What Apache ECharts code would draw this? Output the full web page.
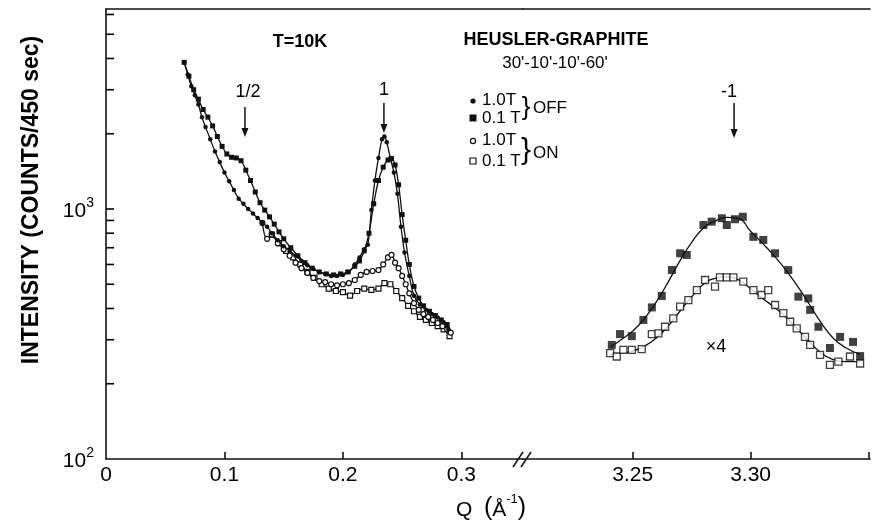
<!DOCTYPE html>
<html><head><meta charset="utf-8">
<script src="https://cdn.jsdelivr.net/npm/echarts@6/dist/echarts.min.js"></script>
<style>html,body{margin:0;padding:0;background:#fff}#c{width:874px;height:521px}</style>
</head><body><div id="c"></div>
<script>
// ---------- tick labels ----------
var xTicksLeft = [0.1, 0.2, 0.3];
var xLabelsLeft = [0, 0.1, 0.2, 0.3];
var xTicksRight = [3.25, 3.30, 3.35];
var xLabelsRight = [3.25, 3.30];
var yLabels = [100, 1000];
var yTicks = [200,300,400,500,600,700,800,900,1000,2000,3000,4000,5000,6000];
var Y_MIN = 100, Y_MAX = 6310;

// ---------- left part (low Q) ----------
// 1.0 T, flipper OFF (filled dots)
var q10off = [0.066,0.069,0.072,0.075,0.078,0.081,0.084,0.088,0.092,0.096,0.100,0.104,0.108,0.112,0.116,0.120,0.124,0.128,0.132,0.136,0.140,0.145,0.150,0.155,0.160,0.165,0.170,0.175,0.180,0.185,0.190,0.195,0.200,0.205,0.210,0.214,0.218,0.221,0.224,0.227,0.230,0.233,0.235,0.237,0.240,0.243,0.246,0.249,0.252,0.256,0.260,0.265,0.270,0.275,0.280,0.285,0.289];
var i10off = [3860,3450,3100,2850,2620,2330,2130,1900,1700,1540,1400,1290,1190,1100,1050,1000,960,920,880,850,800,750,710,680,650,620,595,575,560,550,540,540,545,560,600,640,690,720,990,1300,1600,1900,1950,1850,1600,1400,1150,850,670,540,450,415,395,380,368,352,330];
// 0.1 T, flipper OFF (filled squares)
var q01off = [0.066,0.070,0.074,0.078,0.082,0.086,0.090,0.094,0.098,0.102,0.106,0.110,0.114,0.118,0.122,0.126,0.130,0.134,0.138,0.142,0.146,0.150,0.156,0.162,0.168,0.174,0.180,0.186,0.192,0.198,0.204,0.210,0.214,0.218,0.222,0.226,0.230,0.234,0.238,0.241,0.244,0.247,0.250,0.253,0.256,0.260,0.264,0.268,0.273,0.278,0.283,0.288];
var i01off = [3860,3400,3000,2750,2500,2330,2150,1950,1780,1660,1610,1600,1560,1430,1300,1170,1060,990,930,870,810,760,700,650,610,580,560,550,545,550,560,590,620,680,800,1050,1300,1470,1570,1590,1500,1250,950,750,600,490,440,410,390,375,360,345];
// 1.0 T, flipper ON (open circles)
var q10on = [0.132,0.136,0.140,0.145,0.150,0.155,0.160,0.165,0.170,0.175,0.180,0.185,0.190,0.195,0.200,0.205,0.210,0.215,0.220,0.225,0.230,0.234,0.238,0.241,0.244,0.247,0.250,0.253,0.256,0.260,0.264,0.268,0.272,0.276,0.280,0.284,0.288,0.291];
var i10on = [880,760,790,730,690,650,610,580,555,530,515,510,500,495,500,505,520,545,560,565,570,600,640,655,610,580,540,500,460,420,395,380,370,360,350,340,330,320];
// 0.1 T, flipper ON (open squares)
var q01on = [0.140,0.146,0.152,0.158,0.164,0.170,0.176,0.182,0.188,0.194,0.200,0.206,0.212,0.218,0.224,0.230,0.235,0.240,0.245,0.250,0.255,0.260,0.265,0.270,0.275,0.280,0.285,0.290];
var i01on = [790,730,680,640,600,560,530,500,480,470,465,450,470,480,475,480,505,500,470,440,410,390,370,360,350,340,330,310];

// ---------- right part (Q near 3.29) ----------
// 0.1 T OFF points (filled squares)
var qR01off = [3.2411,3.2446,3.2496,3.2545,3.2581,3.2623,3.2666,3.2701,3.2729,3.2800,3.2835,3.2878,3.2899,3.2934,3.2967,3.3012,3.3054,3.3104,3.3160,3.3203,3.3245,3.3253,3.3288,3.3337,3.3380,3.3435,3.3465];
var iR01off = [286,316,310,360,404,449,570,665,655,863,890,918,863,910,931,774,752,665,570,446,439,395,338,278,308,294,258];
// 0.1 T ON points x4 (open squares)
var qR01on = [3.2404,3.2432,3.2460,3.2496,3.2538,3.2581,3.2609,3.2637,3.2672,3.2701,3.2736,3.2772,3.2807,3.2849,3.2870,3.2899,3.2927,3.2969,3.3012,3.3047,3.3075,3.3104,3.3139,3.3168,3.3196,3.3231,3.3253,3.3295,3.3337,3.3373,3.3422,3.3465];
var iR01on = [265,257,273,273,275,316,318,338,365,407,432,474,520,489,533,533,533,512,474,453,474,413,383,354,333,308,286,261,238,245,257,241];
// fitted curves
var qFit = [3.2405,3.245,3.25,3.255,3.26,3.265,3.27,3.275,3.28,3.285,3.29,3.295,3.30,3.305,3.31,3.315,3.32,3.325,3.33,3.335,3.34,3.3465];
var iFitOff = [280,300,325,365,425,510,620,735,840,895,925,915,815,730,650,570,490,415,350,305,280,262];
var iFitOn = [262,265,270,283,305,340,390,445,500,528,535,520,480,440,405,370,330,295,265,250,245,245];

function zip(a, b) { return a.map(function (v, k) { return [v, b[k]]; }); }

var FONT = 'Liberation Sans, Arial, sans-serif';
var BLACK = '#111';
var GRID_TOP = 9, GRID_BOTTOM = 62, GRID_LEFT = 106;

var chart = echarts.init(document.getElementById('c'), null, {renderer: 'canvas'});

function bottomAxis(grid, min, max, ticks, labels, fmt) {
  return {
    type: 'value', gridIndex: grid, min: min, max: max, position: 'bottom',
    axisLine: {show: true, lineStyle: {color: BLACK, width: 1.6}},
    axisTick: {show: true, inside: true, length: 7, customValues: ticks, lineStyle: {color: BLACK, width: 1.6}},
    axisLabel: {show: true, customValues: labels, formatter: fmt, fontSize: 21, color: '#000', fontFamily: FONT, margin: 6},
    splitLine: {show: false}
  };
}
function topAxis(grid, min, max) {
  return {
    type: 'value', gridIndex: grid, min: min, max: max, position: 'top',
    axisLine: {show: true, lineStyle: {color: BLACK, width: 1.6}},
    axisTick: {show: false}, axisLabel: {show: false}, splitLine: {show: false}
  };
}

var lineStyle = {color: BLACK, width: 1.3};
var filled = {color: BLACK};
var open = {color: '#fff', borderColor: BLACK, borderWidth: 1.2};

var option = {
  animation: false,
  backgroundColor: '#fff',
  grid: [
    {left: GRID_LEFT, top: GRID_TOP, width: 417, bottom: GRID_BOTTOM},
    {left: 523, top: GRID_TOP, right: 4, bottom: GRID_BOTTOM}
  ],
  xAxis: [
    bottomAxis(0, 0, 0.352, xTicksLeft, xLabelsLeft, function (v) { return v === 0 ? '0' : String(v); }),
    bottomAxis(1, 3.2034, 3.3507, xTicksRight, xLabelsRight, function (v) { return v.toFixed(2); }),
    topAxis(0, 0, 0.352),
    topAxis(1, 3.2034, 3.3507)
  ],
  yAxis: [
    {
      type: 'log', logBase: 10, gridIndex: 0, min: Y_MIN, max: Y_MAX,
      axisLine: {show: true, lineStyle: {color: BLACK, width: 1.6}},
      axisTick: {show: false},
      axisLabel: {
        show: true, customValues: yLabels, margin: 12,
        formatter: function (v) { return '{b|10}{s|' + Math.round(Math.log10(v)) + '}'; },
        rich: {
          b: {fontSize: 21, fontFamily: FONT, color: '#000', lineHeight: 26, verticalAlign: 'bottom'},
          s: {fontSize: 14, fontFamily: FONT, color: '#000', lineHeight: 26, verticalAlign: 'top'}
        }
      },
      splitLine: {show: false}, minorTick: {show: false}
    },
    {type: 'log', logBase: 10, gridIndex: 1, min: Y_MIN, max: Y_MAX, show: false}
  ],
  series: [
    {name: '0.1T ON', type: 'line', xAxisIndex: 0, yAxisIndex: 0, data: zip(q01on, i01on), smooth: 0.4,
      symbol: 'rect', symbolSize: 5, itemStyle: open, lineStyle: lineStyle, z: 2},
    {name: '1.0T ON', type: 'line', xAxisIndex: 0, yAxisIndex: 0, data: zip(q10on, i10on), smooth: 0.4,
      symbol: 'circle', symbolSize: 5, itemStyle: open, lineStyle: lineStyle, z: 2},
    {name: '0.1T OFF', type: 'line', xAxisIndex: 0, yAxisIndex: 0, data: zip(q01off, i01off), smooth: 0.4,
      symbol: 'rect', symbolSize: 5, itemStyle: filled, lineStyle: lineStyle, z: 3},
    {name: '1.0T OFF', type: 'line', xAxisIndex: 0, yAxisIndex: 0, data: zip(q10off, i10off), smooth: 0.4,
      symbol: 'circle', symbolSize: 4.5, itemStyle: filled, lineStyle: lineStyle, z: 3},
    {name: 'fit OFF', type: 'line', xAxisIndex: 1, yAxisIndex: 1, data: zip(qFit, iFitOff), smooth: true,
      showSymbol: false, lineStyle: lineStyle, z: 2},
    {name: 'fit ON', type: 'line', xAxisIndex: 1, yAxisIndex: 1, data: zip(qFit, iFitOn), smooth: true,
      showSymbol: false, lineStyle: lineStyle, z: 2},
    {name: '0.1T OFF R', type: 'scatter', xAxisIndex: 1, yAxisIndex: 1, data: zip(qR01off, iR01off),
      symbol: 'rect', symbolSize: 8, itemStyle: filled, z: 4},
    {name: '0.1T ON R', type: 'scatter', xAxisIndex: 1, yAxisIndex: 1, data: zip(qR01on, iR01on),
      symbol: 'rect', symbolSize: 7, itemStyle: {color: '#fff', borderColor: BLACK, borderWidth: 1.3}, z: 4}
  ]
};
chart.setOption(option);

// ---------- annotations ----------
function txt(t, x, y, size, weight, align) {
  return {type: 'text', z: 10, style: {text: t, x: x, y: y, fontSize: size, fontFamily: FONT,
    fontWeight: weight || 'normal', fill: '#000', align: align || 'center', verticalAlign: 'middle'}};
}
function arrow(x, y1, y2) {
  return [
    {type: 'line', z: 10, shape: {x1: x, y1: y1, x2: x, y2: y2 - 6}, style: {stroke: BLACK, lineWidth: 1.5}},
    {type: 'polygon', z: 10, shape: {points: [[x - 3.5, y2 - 9], [x + 3.5, y2 - 9], [x, y2]]}, style: {fill: BLACK}}
  ];
}
var xHalf = chart.convertToPixel({xAxisIndex: 0}, 0.1173);
var xOne = chart.convertToPixel({xAxisIndex: 0}, 0.2346);
var xMinus = chart.convertToPixel({xAxisIndex: 1}, 3.293);
var xBreak = chart.convertToPixel({xAxisIndex: 0}, 0.352);
var yBase = chart.getHeight() - GRID_BOTTOM;
var yTopPx = GRID_TOP;

// pixel row of an intensity on the log axis (same mapping as the axis scale)
function yPix(v) {
  var t = (Math.log10(v) - Math.log10(Y_MIN)) / (Math.log10(Y_MAX) - Math.log10(Y_MIN));
  return yBase - t * (yBase - yTopPx);
}

var g = [];
for (var k = 0; k < yTicks.length; k++) {
  var yy = yPix(yTicks[k]);
  g.push({type: 'line', z: 20, shape: {x1: GRID_LEFT, y1: yy, x2: GRID_LEFT + 8, y2: yy},
    style: {stroke: '#000', lineWidth: 1.6}});
}
g.push({type: 'text', z: 10, x: 32, y: 200, rotation: Math.PI / 2,
  style: {text: 'INTENSITY (COUNTS/450 sec)', x: 0, y: 0, fontSize: 23, fontWeight: 'bold', fontFamily: FONT,
    fill: '#000', align: 'center', verticalAlign: 'middle'}});
g.push({type: 'text', z: 10, style: {text: '{q|Q  }{p|(}{q|Å}{s|-1}{p|)}', x: 491, y: 507, align: 'center', verticalAlign: 'middle',
  rich: {q: {fontSize: 21, fontFamily: FONT, fill: '#000', lineHeight: 28, verticalAlign: 'bottom'},
         p: {fontSize: 25, fontFamily: FONT, fill: '#000', lineHeight: 28, verticalAlign: 'bottom'},
         s: {fontSize: 13, fontFamily: FONT, fill: '#000', lineHeight: 28, verticalAlign: 'top'}}}});
g.push(txt('T=10K', 300, 42, 18, 'bold'));
g.push(txt('HEUSLER-GRAPHITE', 556, 40, 18, 'bold'));
g.push(txt("30'-10'-10'-60'", 555, 63, 17, 'normal'));
g.push(txt('1/2', xHalf + 3, 92, 18));
g.push(txt('1', xOne, 90, 18));
g.push(txt('-1', xMinus - 5, 92, 18));
g.push(txt('×4', 716, 347, 18));
g = g.concat(arrow(xHalf, 107, 137), arrow(xOne, 103, 133), arrow(xMinus, 103, 138));
// legend
g.push({type: 'circle', z: 10, shape: {cx: 473, cy: 101, r: 2.6}, style: {fill: BLACK}});
g.push({type: 'rect', z: 10, shape: {x: 469.5, y: 114.5, width: 7, height: 7}, style: {fill: BLACK}});
g.push({type: 'circle', z: 10, shape: {cx: 473, cy: 141, r: 2.6}, style: {fill: '#fff', stroke: BLACK, lineWidth: 1.2}});
g.push({type: 'rect', z: 10, shape: {x: 470, y: 158, width: 6, height: 6}, style: {fill: '#fff', stroke: BLACK, lineWidth: 1.2}});
g.push(txt('1.0T', 482, 100, 17, 'normal', 'left'));
g.push(txt('0.1 T', 482, 118, 17, 'normal', 'left'));
g.push(txt('1.0T', 482, 140, 17, 'normal', 'left'));
g.push(txt('0.1 T', 482, 161, 17, 'normal', 'left'));
g.push(txt('}', 526, 108, 26, 'normal'));
g.push(txt('}', 526, 151, 30, 'normal'));
g.push(txt('OFF', 533, 108, 17, 'normal', 'left'));
g.push(txt('ON', 533, 153, 17, 'normal', 'left'));
// axis break mark
g.push({type: 'line', z: 10, shape: {x1: xBreak - 10, y1: yBase + 8, x2: xBreak, y2: yBase - 7}, style: {stroke: BLACK, lineWidth: 1.5}});
g.push({type: 'line', z: 10, shape: {x1: xBreak - 2, y1: yBase + 8, x2: xBreak + 8, y2: yBase - 7}, style: {stroke: BLACK, lineWidth: 1.5}});
chart.setOption({graphic: g});
</script></body></html>
